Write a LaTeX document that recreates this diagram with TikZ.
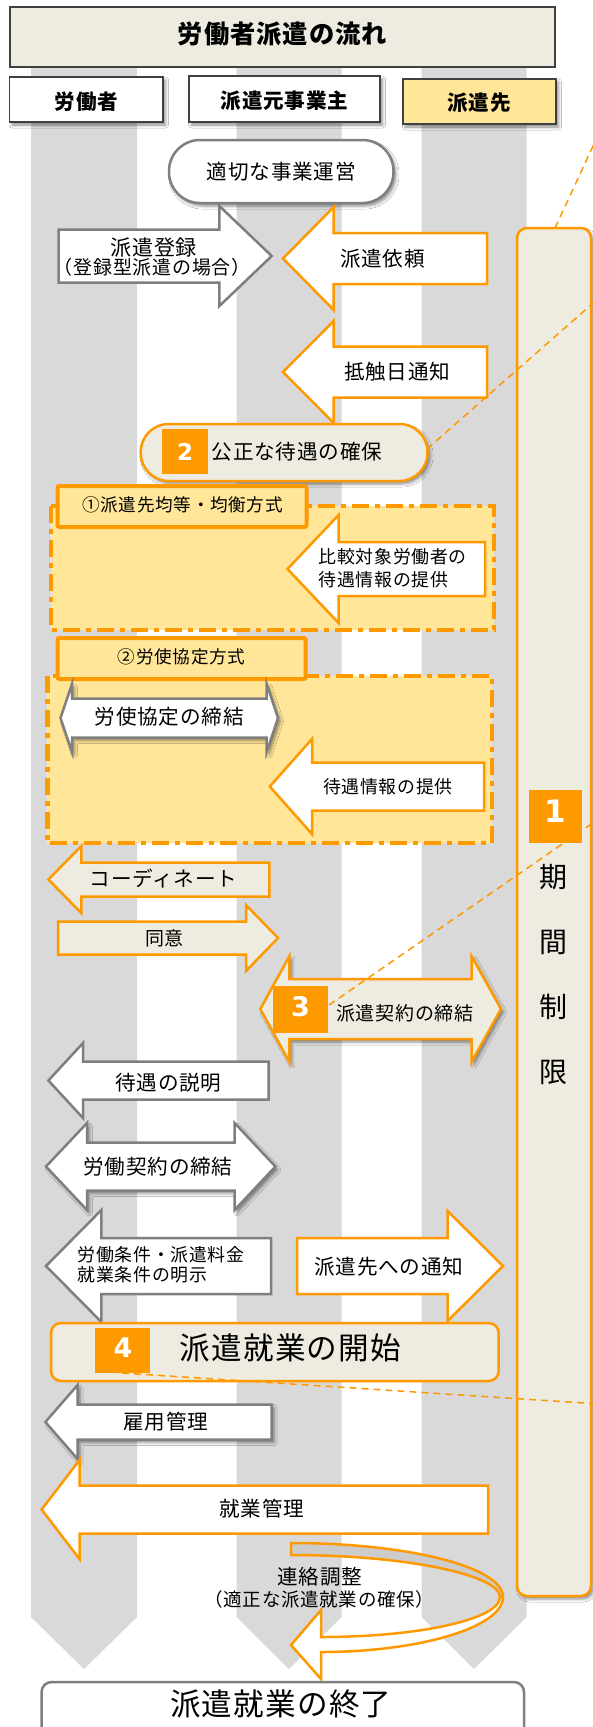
\documentclass[tikz,border=0pt]{standalone}
\usepackage{fontspec}
\setmainfont{Noto Sans CJK JP}[LetterSpace=4]
\newfontfamily\numfont{DejaVu Sans}
\usetikzlibrary{shadows.blur}
\definecolor{og}{HTML}{FF9900}
\definecolor{lane}{HTML}{D9D9D9}
\definecolor{beige}{HTML}{EEECE1}
\definecolor{ylw}{HTML}{FFE699}
\definecolor{gbd}{HTML}{7F7F7F}
\definecolor{band}{HTML}{CCCCCC}
\definecolor{hdrbd}{HTML}{404040}
\newcommand{\barrow}[7]{\draw[#1] (#2,#3) -- (#4,#3-#6) -- (#4,#3-#7) -- (#5,#3-#7) -- (#5,#3+#7) -- (#4,#3+#7) -- (#4,#3+#6) -- cycle;}
\newcommand{\darrow}[8]{\draw[#1] (#2,#3) -- (#4,#3-#7) -- (#4,#3-#8) -- (#5,#3-#8) -- (#5,#3-#7) -- (#6,#3) -- (#5,#3+#7) -- (#5,#3+#8) -- (#4,#3+#8) -- (#4,#3+#7) -- cycle;}
\tikzset{
  oline/.style={draw=og, line width=2.5pt, line join=miter},
  gline/.style={draw=gbd, line width=2.5pt, line join=miter},
  oarrow/.style={oline, fill=white},
  barrowst/.style={oline, fill=beige},
  garrow/.style={gline, fill=white},
  shd/.style={blur shadow={shadow xshift=2.5pt, shadow yshift=-3pt, shadow blur radius=3pt, shadow opacity=45}},
  hdr/.style={draw=hdrbd, line width=1.2pt},
  ddbox/.style={draw=og, line width=4.5pt, fill=ylw, dash pattern=on 17pt off 6pt on 5pt off 6pt},
  lblbox/.style={draw=og, line width=4pt, fill=ylw, rounded corners=2pt},
  numbox/.style={fill=og},
  fs/.style={inner sep=0pt, font=\fontsize{#1}{#1}\selectfont},
  bfs/.style={inner sep=0pt, font=\fontsize{#1}{#1}\selectfont\bfseries},
  nfs/.style={inner sep=0pt, text=white, font=\fontsize{#1}{#1}\selectfont\numfont\bfseries},
  dline/.style={draw=og, line width=1.5pt, dash pattern=on 7pt off 5pt}
}
\begin{document}
\begin{tikzpicture}[x=1pt,y=-1pt]
\useasboundingbox (0,0) rectangle (593,1727);
\clip (0,0) rectangle (593,1727);
\fill[white] (0,0) rectangle (593,1727);
% lanes
\fill[lane] (31,67) -- (137,67) -- (137,1617) -- (84,1669) -- (31,1617) -- cycle;
\fill[lane] (236.5,67) -- (341.7,67) -- (341.7,1617) -- (289,1669) -- (236.5,1617) -- cycle;
\fill[lane] (421.7,67) -- (526.7,67) -- (526.7,1617) -- (474,1669) -- (421.7,1617) -- cycle;
% title and headers
\draw[hdr, fill=beige] (10,7) rectangle (555,67);
\draw[hdr, fill=white, shd] (9.5,77) rectangle (163,122);
\draw[hdr, fill=white, shd] (189,76) rectangle (380,122);
\draw[hdr, fill=ylw, shd] (403,79) rectangle (556,124);
% time limit bar
\draw[oline, fill=beige, rounded corners=10pt, shd] (517,228) rectangle (591,1596);
\fill[numbox] (529,790) rectangle (582,843);
% pill 1
\draw[gline, fill=white, rounded corners=31pt, shd] (169,140) rectangle (393.5,203);
% arrows top
\barrow{garrow}{271.7}{256}{219.4}{58.6}{50}{26.5}
\barrow{oarrow}{283}{258.5}{333.7}{487}{51.5}{25.5}
\barrow{oarrow}{283}{372}{333.7}{487}{51}{25.5}
% pill 2
\draw[oline, fill=beige, rounded corners=28pt, shd] (140.7,424) rectangle (427.5,481);
\fill[numbox] (162,429) rectangle (208,474);
% region 1
\draw[ddbox] (51,506) rectangle (494,630);
\draw[lblbox] (57.5,486) rectangle (306.5,527);
\barrow{oarrow}{287.5}{569}{338.6}{485}{54}{27}
% region 2
\draw[ddbox] (47.3,676) rectangle (492,843);
\draw[lblbox] (57.5,638) rectangle (305.7,679);
\darrow{garrow, shd}{60.5}{718}{72}{266.7}{278}{34}{19.5}
\barrow{oarrow}{269.8}{786.5}{312}{484}{47.5}{24}
% coordinate / consent
\barrow{barrowst}{48.4}{879.5}{81.3}{269.4}{33.5}{17}
\barrow{barrowst}{278}{938}{246}{58}{33}{16.5}
\darrow{barrowst, shd}{260.3}{1009}{289.4}{471.5}{501}{53}{30}
\fill[numbox] (273,986) rectangle (328,1033);
% worker side
\barrow{garrow}{48.4}{1080.5}{83}{268.6}{37.5}{19}
\darrow{garrow, shd}{46}{1166.5}{87}{234.6}{275.4}{43.5}{24}
\barrow{garrow}{46}{1266}{101.4}{271}{56}{28}
\barrow{oarrow}{503}{1266}{447.6}{297}{55}{28}
% start
\draw[oline, fill=beige, rounded corners=10pt] (51,1323) rectangle (498.7,1381);
\fill[numbox] (94.6,1328) rectangle (150,1373);
\barrow{garrow, shd}{45.4}{1422}{77.6}{271.7}{37}{17.5}
\barrow{oarrow}{41.6}{1509.5}{79.5}{488}{49.5}{24}
% curved arrow
\draw[oline, fill=band, line join=round] (291,1543) .. controls (408,1543) and (503,1567) .. (503,1597)
  -- (500,1597) .. controls (500,1575) and (406,1555) .. (291,1555) -- cycle;
\draw[oarrow] (503,1597) .. controls (503,1627) and (420,1652) .. (321,1652) -- (321,1679) -- (291,1645)
  -- (321,1610) -- (321,1637) .. controls (420,1637) and (500,1619) .. (500,1597) -- cycle;
% end box
\draw[gline, fill=white, rounded corners=10pt] (41.6,1682) rectangle (524,1745);
% dashed leader lines
\coordinate (la1) at (555,228); \coordinate (la2) at (600,131);
\coordinate (lb1) at (427,449); \coordinate (lb2) at (600,297);
\coordinate (lc1) at (329,1005); \coordinate (lc2) at (600,818);
\coordinate (ld1) at (122,1373); \coordinate (ld2) at (600,1404);
\draw[dline] (la1) -- (la2);
\draw[dline] (lb1) -- (lb2);
\draw[dline] (lc1) -- (lc2);
\draw[dline] (ld1) -- (ld2);
% texts
\node[bfs=25.3] (title) at (282.5,34) {労働者派遣の流れ};
\node[bfs=20.6] (h1) at (86.5,101.5) {労働者};
\node[bfs=20.6] (h2) at (284.5,100.5) {派遣元事業主};
\node[bfs=20.6] (h3) at (479,103) {派遣先};
\node[fs=20.6] (t1) at (281.4,171.5) {適切な事業運営};
\node[fs=21.1] (t2a) at (153.6,247.3) {派遣登録};
\node[fs=19] (t2b) at (152.3,267.3) {（登録型派遣の場合）};
\node[fs=20.6] (t3) at (382.5,259) {派遣依頼};
\node[fs=20.6] (t4) at (397.3,371.7) {抵触日通知};
\node[nfs=23] (n2) at (185,451.5) {2};
\node[fs=20.6] (t5) at (297,452) {公正な待遇の確保};
\node[fs=17.6] (t6) at (182.5,505) {①派遣先均等・均衡方式};
\node[fs=17.9, anchor=west] (t7a) at (318.5,557) {比較対象労働者の};
\node[fs=17.9, anchor=west] (t7b) at (318.5,580) {待遇情報の提供};
\node[fs=17.6] (t8) at (181.7,657) {②労使協定方式};
\node[fs=20.6] (t9) at (169.3,717) {労使協定の締結};
\node[fs=17.9] (t10) at (387.8,787) {待遇情報の提供};
\node[fs=20.6] (t11) at (163.5,879) {コーディネート};
\node[fs=19] (t12) at (164.6,938) {同意};
\node[nfs=27] (n3) at (300.6,1006.7) {3};
\node[fs=19] (t13) at (404.8,1013) {派遣契約の締結};
\node[fs=20.6] (t14) at (168.4,1083) {待遇の説明};
\node[fs=20.6] (t15) at (158,1167) {労働契約の締結};
\node[fs=17.9, anchor=west] (t16a) at (77.5,1255) {労働条件・派遣料金};
\node[fs=17.9, anchor=west] (t16b) at (77.5,1275) {就業条件の明示};
\node[fs=20.6] (t17) at (388.8,1267) {派遣先への通知};
\node[nfs=27] (n4) at (123,1348) {4};
\node[fs=30.6] (t18) at (290.4,1348) {派遣就業の開始};
\node[fs=20.6] (t19) at (166,1422) {雇用管理};
\node[fs=20.6] (t20) at (262,1509) {就業管理};
\node[fs=20.6] (t21) at (319.7,1577) {連絡調整};
\node[fs=18.5] (t22) at (319.4,1599) {（適正な派遣就業の確保）};
\node[fs=30.6] (t23) at (280.8,1704) {派遣就業の終了};
\node[nfs=31] (n1) at (555.5,811) {1};
\node[fs=28] (k1) at (553,877) {期};
\node[fs=28] (k2) at (553,942) {間};
\node[fs=28] (k3) at (553,1007) {制};
\node[fs=28] (k4) at (553,1072) {限};
\end{tikzpicture}
\end{document}
